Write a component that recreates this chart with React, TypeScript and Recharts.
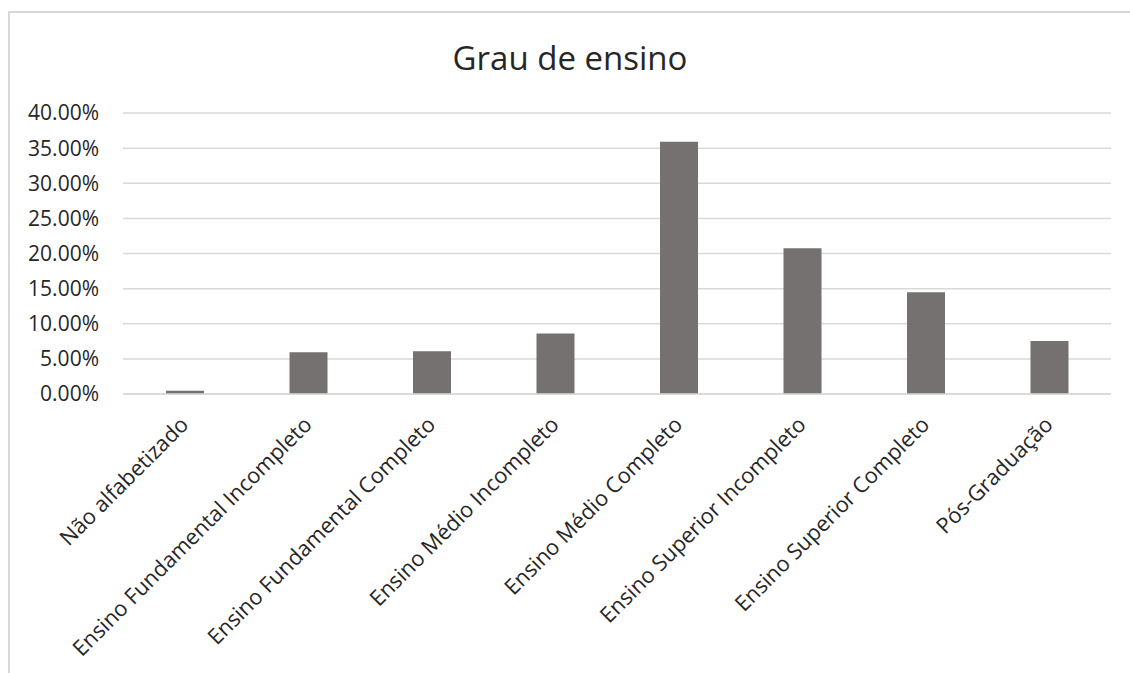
import { BarChart, Bar, XAxis, YAxis, CartesianGrid } from "recharts"

const categories = [
  "Não alfabetizado",
  "Ensino Fundamental Incompleto",
  "Ensino Fundamental Completo",
  "Ensino Médio Incompleto",
  "Ensino Médio Completo",
  "Ensino Superior Incompleto",
  "Ensino Superior Completo",
  "Pós-Graduação",
]

const percentages = [0.45, 5.95, 6.1, 8.6, 35.9, 20.75, 14.5, 7.55]

const yTicks = [0, 5, 10, 15, 20, 25, 30, 35, 40]

const data = categories.map((name, i) => ({ name, value: percentages[i] }))

const FONT = "'Open Sans', sans-serif"
const TEXT = "#262626"

function CategoryTick({ x, y, payload }: any) {
  return (
    <g transform={`translate(${x + 5},${y + 24})`}>
      <text
        textAnchor="end"
        transform="rotate(-45)"
        fontFamily={FONT}
        fontSize={21.7}
        fill={TEXT}
      >
        {payload.value}
      </text>
    </g>
  )
}

export default function App() {
  return (
    <div
      style={{
        position: "absolute",
        left: 8,
        top: 11,
        width: 1122,
        height: 662,
        borderTop: "2px solid #d9d9d9",
        borderLeft: "2px solid #d9d9d9",
        boxSizing: "border-box",
        overflow: "hidden",
        background: "#fff",
      }}
    >
      <div
        style={{
          position: "absolute",
          left: 0,
          right: 0,
          top: 23,
          textAlign: "center",
          fontFamily: FONT,
          fontSize: 33,
          color: TEXT,
          lineHeight: "44px",
        }}
      >
        Grau de ensino
      </div>
      <BarChart
        width={1120}
        height={660}
        data={data}
        margin={{ top: 100, right: 19, left: 0, bottom: 0 }}
        style={{ position: "absolute", left: 0, top: 0 }}
      >
        <CartesianGrid vertical={false} stroke="#d9d9d9" strokeWidth={1.5} />
        <XAxis
          dataKey="name"
          interval={0}
          height={279}
          axisLine={{ stroke: "#d9d9d9", strokeWidth: 1.5 }}
          tickLine={false}
          tick={<CategoryTick />}
        />
        <YAxis
          domain={[0, 40]}
          ticks={yTicks}
          width={113}
          axisLine={false}
          tickLine={false}
          tickSize={0}
          tickMargin={24}
          tickFormatter={(v: number) => v.toFixed(2) + "%"}
          tick={{ fontFamily: FONT, fontSize: 21, fill: TEXT }}
        />
        <Bar dataKey="value" fill="#767171" barSize={38} isAnimationActive={false} />
      </BarChart>
    </div>
  )
}
